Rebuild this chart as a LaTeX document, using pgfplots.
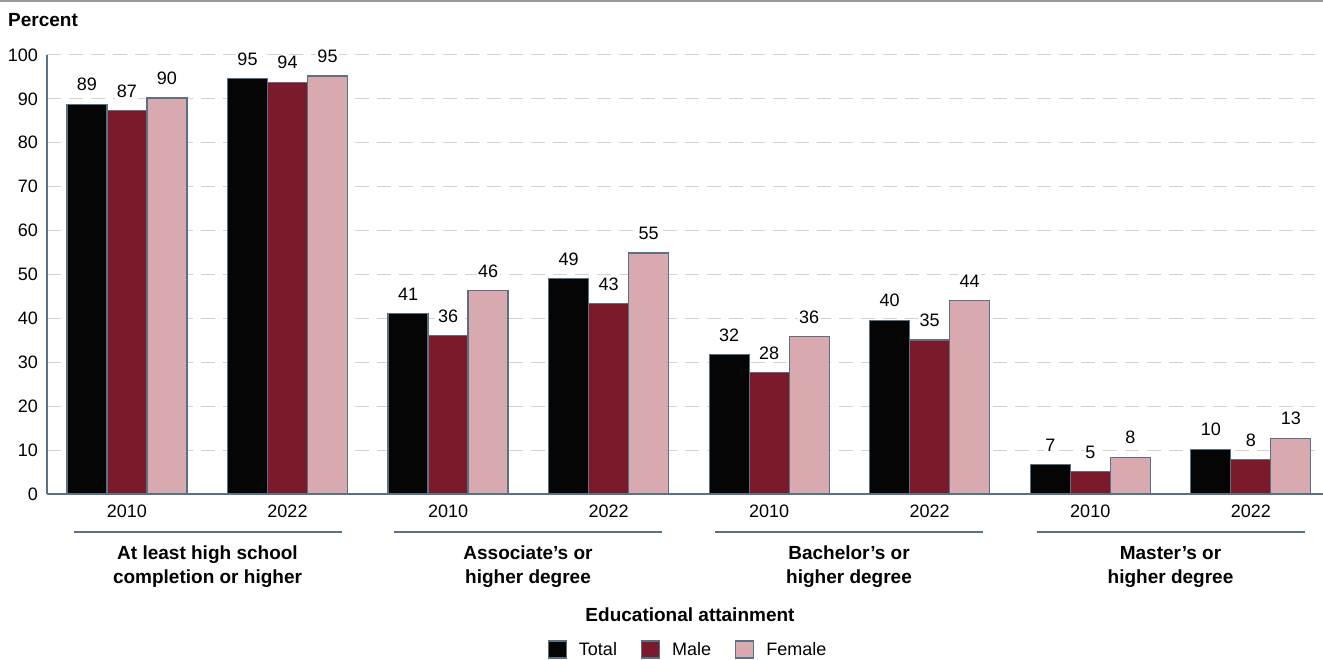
\documentclass[border=0pt]{standalone}
\usepackage{pgfplots}
\pgfplotsset{compat=1.18}
\usepackage{fontspec}
\setmainfont{Liberation Sans}
\definecolor{cTotal}{HTML}{050505}
\definecolor{cMale}{HTML}{7A1A2B}
\definecolor{cFemale}{HTML}{D9A9B0}
\definecolor{cEdge}{HTML}{5A7183}
\definecolor{cGrid}{HTML}{D2D2D2}
\pgfplotsset{
  mylegend/.style={legend image code/.code={\draw[##1,draw=cEdge,line width=1.2bp] (0bp,-8bp) rectangle (18bp,9bp);}}
}
\begin{document}
\fontsize{18bp}{24bp}\selectfont
\begin{tikzpicture}[x=1bp,y=1bp]
\useasboundingbox (0,0) rectangle (1323,660);
\draw[color=black!40, line width=2bp] (0,659) -- (1323,659);
\node[anchor=base west, font=\fontsize{19bp}{24bp}\selectfont\bfseries, inner sep=0] at (8,633) {Percent};
\begin{axis}[
  at={(47bp,166bp)}, anchor=south west,
  scale only axis, width=1276bp, height=439bp,
  xmin=-0.498, xmax=7.45, ymin=0, ymax=100,
  ybar=0pt, bar width=40bp,
  axis x line=bottom, axis y line=left,
  axis line style={cEdge, line width=1.2bp, -},
  ytick={0,10,...,100},
  ymajorgrids,
  grid style={cGrid, line width=1bp, dash pattern=on 14bp off 8bp},
  xtick={0,...,7},
  xticklabels={2010,2022,2010,2022,2010,2022,2010,2022},
  major tick length=0pt,
  /pgf/number format/assume math mode=true,
  tick label style={font=\fontsize{18bp}{22bp}\selectfont},
  yticklabel style={inner sep=1bp, xshift=-8bp},
  xticklabel style={yshift=-5bp},
  nodes near coords={\pgfmathprintnumber[fixed,precision=0,assume math mode=true]{\pgfplotspointmeta}},
  every node near coord/.append style={fill=white, inner sep=1.5bp, yshift=11bp, font=\fontsize{18bp}{22bp}\selectfont},
  legend columns=3,
  legend style={at={(0.5024,-0.3554)}, anchor=center, draw=none, fill=none,
    font=\fontsize{18bp}{22bp}\selectfont,
    /tikz/every odd column/.append style={column sep=10bp},
    /tikz/every even column/.append style={column sep=22bp}},
]
\addplot[fill=cTotal, draw=cEdge, line width=1.2bp, mylegend] coordinates {
 (0,88.8) (1,94.6) (2,41.2) (3,49.1) (4,31.7) (5,39.6) (6,6.8) (7,10.2)};
\addplot[fill=cMale, draw=cEdge, line width=1.2bp, mylegend] coordinates {
 (0,87.4) (1,93.8) (2,36.1) (3,43.4) (4,27.7) (5,35.1) (6,5.1) (7,7.8)};
\addplot[fill=cFemale, draw=cEdge, line width=1.2bp, mylegend] coordinates {
 (0,90.2) (1,95.2) (2,46.4) (3,54.9) (4,35.8) (5,44.1) (6,8.4) (7,12.7)};
\legend{Total,Male,Female}
\end{axis}
\foreach \c/\t in {207.5/{At least high school\\completion or higher},528/{Associate’s or\\higher degree},849/{Bachelor’s or\\higher degree},1170.5/{Master’s or\\higher degree}}{
  \draw[cEdge, line width=1.2bp] (\c-134,128) -- (\c+134,128);
  \node[font=\fontsize{19bp}{24bp}\selectfont\bfseries, align=center, inner sep=0] at (\c,93) {\t};
}
\node[font=\fontsize{19bp}{24bp}\selectfont\bfseries, inner sep=0] at (690,45) {Educational attainment};
\end{tikzpicture}
\end{document}
